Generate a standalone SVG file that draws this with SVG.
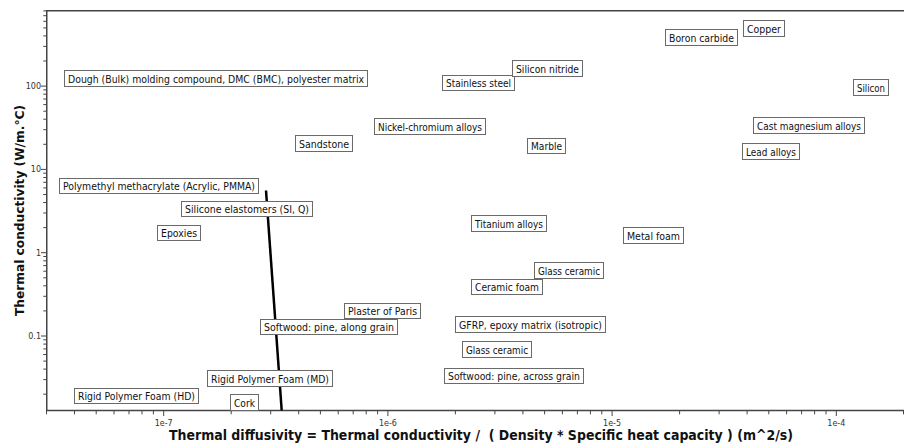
<svg xmlns="http://www.w3.org/2000/svg" width="904" height="443" viewBox="0 0 904 443">
<style>
.bg{fill:#fff}
.ax{stroke:#444;stroke-width:1.5;fill:none}
.tk{stroke:#444;stroke-width:1;fill:none}
.tl{font-family:"DejaVu Sans","Liberation Sans",sans-serif;font-size:8px;fill:#333}
.tlx{text-anchor:middle}
.tly{text-anchor:end}
.ttl{font-family:"DejaVu Sans","Liberation Sans",sans-serif;font-weight:bold;fill:#111;text-anchor:middle}
.box{fill:#fff;stroke:#6a6a6a;stroke-width:1}
.lbl{font-family:"DejaVu Sans","Liberation Sans",sans-serif;font-size:10.5px;fill:#111;text-anchor:middle}
.curve{stroke:#000;stroke-width:2.5;fill:none}
</style>
<rect class="bg" x="0" y="0" width="904" height="443"/>

<g id="axes">
<path class="ax" d="M46.75,10.8 H904 M46.75,10 V410.5 H904"/>
<path class="tk" d="M46.5,411 v3.3 M74.5,411 v3.3 M96.2,411 v3.3 M114,411 v3.3 M129,411 v3.3 M142,411 v3.3 M153.4,411 v3.3
M231.2,411 v3.3 M270.7,411 v3.3 M298.7,411 v3.3 M320.4,411 v3.3 M338.2,411 v3.3 M353.2,411 v3.3 M366.2,411 v3.3 M377.6,411 v3.3
M455.4,411 v3.3 M494.9,411 v3.3 M522.9,411 v3.3 M544.6,411 v3.3 M562.4,411 v3.3 M577.4,411 v3.3 M590.4,411 v3.3 M601.8,411 v3.3
M679.6,411 v3.3 M719.1,411 v3.3 M747.1,411 v3.3 M768.8,411 v3.3 M786.6,411 v3.3 M801.6,411 v3.3 M814.6,411 v3.3 M826,411 v3.3 M903.5,411 v3.3"/>
<path class="tk" d="M163.7,411 v5 M387.9,411 v5 M612.1,411 v5 M836.3,411 v5"/>
<path class="tk" d="M46,61 h-2.7 M46,46.4 h-2.7 M46,35.9 h-2.7 M46,27.9 h-2.7 M46,21.3 h-2.7 M46,15.7 h-2.7 M46,10.9 h-2.7
M46,144.3 h-2.7 M46,129.7 h-2.7 M46,119.2 h-2.7 M46,111.2 h-2.7 M46,104.6 h-2.7 M46,99 h-2.7 M46,94.2 h-2.7 M46,89.9 h-2.7
M46,227.6 h-2.7 M46,213 h-2.7 M46,202.5 h-2.7 M46,194.5 h-2.7 M46,187.9 h-2.7 M46,182.3 h-2.7 M46,177.5 h-2.7 M46,173.2 h-2.7
M46,310.9 h-2.7 M46,296.3 h-2.7 M46,285.8 h-2.7 M46,277.8 h-2.7 M46,271.2 h-2.7 M46,265.6 h-2.7 M46,260.8 h-2.7 M46,256.5 h-2.7
M46,394.2 h-2.7 M46,379.6 h-2.7 M46,369.1 h-2.7 M46,361.1 h-2.7 M46,354.5 h-2.7 M46,348.9 h-2.7 M46,344.1 h-2.7 M46,339.8 h-2.7"/>
<path class="tk" d="M46,86.1 h-5 M46,169.4 h-5 M46,252.7 h-5 M46,336 h-5"/>
<text class="tl tlx" x="163.7" y="425.5">1e-7</text>
<text class="tl tlx" x="387.9" y="425.5">1e-6</text>
<text class="tl tlx" x="612.1" y="425.5">1e-5</text>
<text class="tl tlx" x="836.3" y="425.5">1e-4</text>
<text class="tl tly" x="41" y="89">100</text>
<text class="tl tly" x="41" y="172.3">10</text>
<text class="tl tly" x="41" y="255.6">1</text>
<text class="tl tly" x="41" y="339">0.1</text>
<text class="ttl" x="481" y="439.5" font-size="13.5" textLength="624" lengthAdjust="spacingAndGlyphs" xml:space="preserve">Thermal diffusivity = Thermal conductivity /  ( Density * Specific heat capacity ) (m^2/s)</text>
<text class="ttl" transform="translate(24,210.5) rotate(-90)" x="0" y="0" font-size="13" textLength="211" lengthAdjust="spacingAndGlyphs">Thermal conductivity (W/m.°C)</text>
</g>

<g id="connectors">
<line class="curve" x1="266" y1="190.5" x2="281.7" y2="410.5"/>
</g>

<g id="n-dough"><rect class="box" x="64.5" y="70.5" width="303" height="16"/><text class="lbl" x="216" y="82.5" textLength="296" lengthAdjust="spacingAndGlyphs">Dough (Bulk) molding compound, DMC (BMC), polyester matrix</text></g>
<g id="n-stainless"><rect class="box" x="442.5" y="75.5" width="72" height="15"/><text class="lbl" x="478.5" y="87" textLength="65" lengthAdjust="spacingAndGlyphs">Stainless steel</text></g>
<g id="n-siliconnitride"><rect class="box" x="512.5" y="60.5" width="70" height="16"/><text class="lbl" x="547.5" y="72.5" textLength="63" lengthAdjust="spacingAndGlyphs">Silicon nitride</text></g>
<g id="n-nicr"><rect class="box" x="374.5" y="118.5" width="111" height="16"/><text class="lbl" x="430" y="130.5" textLength="104" lengthAdjust="spacingAndGlyphs">Nickel-chromium alloys</text></g>
<g id="n-sandstone"><rect class="box" x="295.5" y="135.5" width="57" height="16"/><text class="lbl" x="324" y="147.5" textLength="50" lengthAdjust="spacingAndGlyphs">Sandstone</text></g>
<g id="n-marble"><rect class="box" x="527.5" y="138.5" width="38" height="15"/><text class="lbl" x="546.5" y="150" textLength="31" lengthAdjust="spacingAndGlyphs">Marble</text></g>
<g id="n-boron"><rect class="box" x="665.5" y="29.5" width="72" height="16"/><text class="lbl" x="701.5" y="41.5" textLength="65" lengthAdjust="spacingAndGlyphs">Boron carbide</text></g>
<g id="n-copper"><rect class="box" x="743.5" y="20.5" width="41" height="16"/><text class="lbl" x="764" y="32.5" textLength="34" lengthAdjust="spacingAndGlyphs">Copper</text></g>
<g id="n-silicon"><rect class="box" x="853.5" y="79.5" width="35" height="16"/><text class="lbl" x="871" y="91.5" textLength="28" lengthAdjust="spacingAndGlyphs">Silicon</text></g>
<g id="n-castmg"><rect class="box" x="753.5" y="117.5" width="111" height="16"/><text class="lbl" x="809" y="129.5" textLength="104" lengthAdjust="spacingAndGlyphs">Cast magnesium alloys</text></g>
<g id="n-lead"><rect class="box" x="742.5" y="143.5" width="57" height="16"/><text class="lbl" x="771" y="155.5" textLength="50" lengthAdjust="spacingAndGlyphs">Lead alloys</text></g>
<g id="n-pmma"><rect class="box" x="59.5" y="178.5" width="199" height="15"/><text class="lbl" x="159" y="190" textLength="192" lengthAdjust="spacingAndGlyphs">Polymethyl methacrylate (Acrylic, PMMA)</text></g>
<g id="n-silicone"><rect class="box" x="181.5" y="201.5" width="131" height="15"/><text class="lbl" x="247" y="213" textLength="124" lengthAdjust="spacingAndGlyphs">Silicone elastomers (SI, Q)</text></g>
<g id="n-epoxies"><rect class="box" x="157.5" y="225.5" width="43" height="15"/><text class="lbl" x="179" y="237" textLength="36" lengthAdjust="spacingAndGlyphs">Epoxies</text></g>
<g id="n-titanium"><rect class="box" x="471.5" y="215.5" width="75" height="16"/><text class="lbl" x="509" y="227.5" textLength="68" lengthAdjust="spacingAndGlyphs">Titanium alloys</text></g>
<g id="n-metalfoam"><rect class="box" x="623.5" y="227.5" width="60" height="16"/><text class="lbl" x="653.5" y="239.5" textLength="53" lengthAdjust="spacingAndGlyphs">Metal foam</text></g>
<g id="n-glassceramic1"><rect class="box" x="534.5" y="262.5" width="69" height="16"/><text class="lbl" x="569" y="274.5" textLength="62" lengthAdjust="spacingAndGlyphs">Glass ceramic</text></g>
<g id="n-ceramicfoam"><rect class="box" x="471.5" y="279.5" width="71" height="15"/><text class="lbl" x="507" y="291" textLength="64" lengthAdjust="spacingAndGlyphs">Ceramic foam</text></g>
<g id="n-plaster"><rect class="box" x="344.5" y="303.5" width="76" height="15"/><text class="lbl" x="382.5" y="315" textLength="69" lengthAdjust="spacingAndGlyphs">Plaster of Paris</text></g>
<g id="n-softwood-along"><rect class="box" x="260.5" y="319.5" width="137" height="15"/><text class="lbl" x="329" y="331" textLength="130" lengthAdjust="spacingAndGlyphs">Softwood: pine, along grain</text></g>
<g id="n-gfrp"><rect class="box" x="455.5" y="316.5" width="150" height="16"/><text class="lbl" x="530.5" y="328.5" textLength="143" lengthAdjust="spacingAndGlyphs">GFRP, epoxy matrix (isotropic)</text></g>
<g id="n-glassceramic2"><rect class="box" x="462.5" y="341.5" width="69" height="16"/><text class="lbl" x="497" y="353.5" textLength="62" lengthAdjust="spacingAndGlyphs">Glass ceramic</text></g>
<g id="n-softwood-across"><rect class="box" x="444.5" y="368.5" width="139" height="15"/><text class="lbl" x="514" y="380" textLength="132" lengthAdjust="spacingAndGlyphs">Softwood: pine, across grain</text></g>
<g id="n-rpf-md"><rect class="box" x="207.5" y="370.5" width="125" height="16"/><text class="lbl" x="270" y="382.5" textLength="118" lengthAdjust="spacingAndGlyphs">Rigid Polymer Foam (MD)</text></g>
<g id="n-rpf-hd"><rect class="box" x="74.5" y="388.5" width="124" height="15"/><text class="lbl" x="136.5" y="400" textLength="117" lengthAdjust="spacingAndGlyphs">Rigid Polymer Foam (HD)</text></g>
<g id="n-cork"><rect class="box" x="230.5" y="394.5" width="28" height="16"/><text class="lbl" x="244.5" y="406.5" textLength="21" lengthAdjust="spacingAndGlyphs">Cork</text></g>
</svg>
